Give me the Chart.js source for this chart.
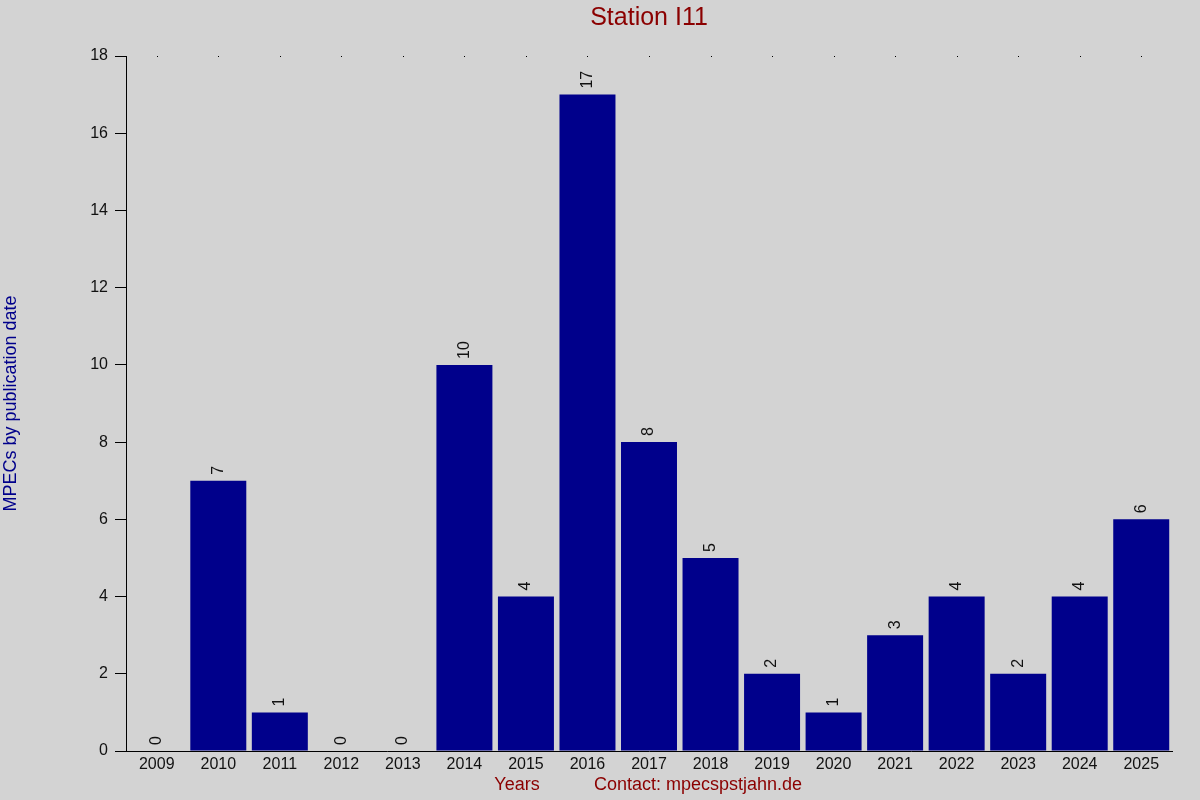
<!DOCTYPE html>
<html>
<head>
<meta charset="utf-8">
<script src="https://cdn.jsdelivr.net/npm/chart.js@4"></script>
<style>
  body { margin: 0; background: #d3d3d3; }
  canvas { display: block; }
</style>
</head>
<body>
<canvas id="myChart" width="1200" height="800"></canvas>
<script>
const years = ['2009', '2010', '2011', '2012', '2013', '2014', '2015', '2016', '2017',
    '2018', '2019', '2020', '2021', '2022', '2023', '2024', '2025'];
const mpecs = [0, 7, 1, 0, 0, 10, 4, 17, 8, 5, 2, 1, 3, 4, 2, 4, 6];
const yTicks = [0, 2, 4, 6, 8, 10, 12, 14, 16, 18];

const chartTitle = 'Station I11';
const yTitle = 'MPECs by publication date';
const xTitle = 'Years';
const contact = 'Contact: mpecspstjahn.de';

const FONT = '"Liberation Sans", Arial, sans-serif';

// background, top dots, value labels and titles
const extras = {
    id: 'extras',
    beforeDraw(chart) {
        const c = chart.ctx;
        c.save();
        c.fillStyle = '#d3d3d3';
        c.fillRect(0, 0, chart.width, chart.height);
        c.restore();
    },
    afterDraw(chart) {
        const c = chart.ctx;
        const area = chart.chartArea;
        const x = chart.scales.x;
        c.save();

        // little dots on the top edge
        c.fillStyle = '#000';
        years.forEach((y, i) => {
            c.fillRect(Math.round(x.getPixelForValue(i)), area.top, 1, 1);
        });

        // values above bars, rotated
        const meta = chart.getDatasetMeta(0);
        c.font = '16px ' + FONT;
        c.fillStyle = '#111';
        c.textAlign = 'left';
        c.textBaseline = 'middle';
        meta.data.forEach((bar, i) => {
            c.save();
            c.translate(bar.x, bar.y - 6);
            c.rotate(-Math.PI / 2);
            c.fillText(String(mpecs[i]), 0, 0);
            c.restore();
        });

        // title
        const mid = (area.left + area.right) / 2;
        c.fillStyle = '#8b0000';
        c.font = '25px ' + FONT;
        c.textAlign = 'center';
        c.textBaseline = 'middle';
        c.fillText(chartTitle, mid, 18);

        // bottom texts
        c.font = '18px ' + FONT;
        c.fillText(xTitle, 517, 785);
        c.fillText(contact, 698, 785);

        // y axis title
        c.fillStyle = '#00008b';
        c.save();
        c.translate(11, (area.top + area.bottom) / 2);
        c.rotate(-Math.PI / 2);
        c.fillText(yTitle, 0, 0);
        c.restore();

        c.restore();
    }
};

const ctx = document.getElementById('myChart').getContext('2d');
const myChart = new Chart(ctx, {
    type: 'bar',
    data: {
        labels: years,
        datasets: [{
            data: mpecs,
            backgroundColor: '#00008b',
            borderWidth: 0,
            barPercentage: 0.91,
            categoryPercentage: 1
        }]
    },
    options: {
        responsive: false,
        animation: false,
        devicePixelRatio: 1,
        layout: {
            padding: { top: 56, right: 28, left: 0, bottom: 0 }
        },
        plugins: {
            legend: { display: false },
            tooltip: { enabled: false }
        },
        scales: {
            x: {
                grid: { display: false, drawTicks: false },
                border: { display: true, color: '#000', width: 1 },
                ticks: {
                    color: '#111',
                    font: { family: FONT, size: 16 },
                    padding: 4,
                    maxRotation: 0,
                    autoSkip: false
                },
                afterFit(scale) { scale.height = 49; }
            },
            y: {
                min: 0,
                max: 18,
                afterBuildTicks(scale) {
                    scale.ticks = yTicks.map(v => ({ value: v }));
                },
                grid: {
                    display: true,
                    drawOnChartArea: false,
                    drawTicks: true,
                    tickLength: 11,
                    color: '#000'
                },
                border: { display: true, color: '#000', width: 1 },
                ticks: {
                    color: '#111',
                    font: { family: FONT, size: 16 },
                    padding: 7
                },
                afterFit(scale) { scale.width = 126; }
            }
        }
    },
    plugins: [extras]
});
</script>
</body>
</html>
